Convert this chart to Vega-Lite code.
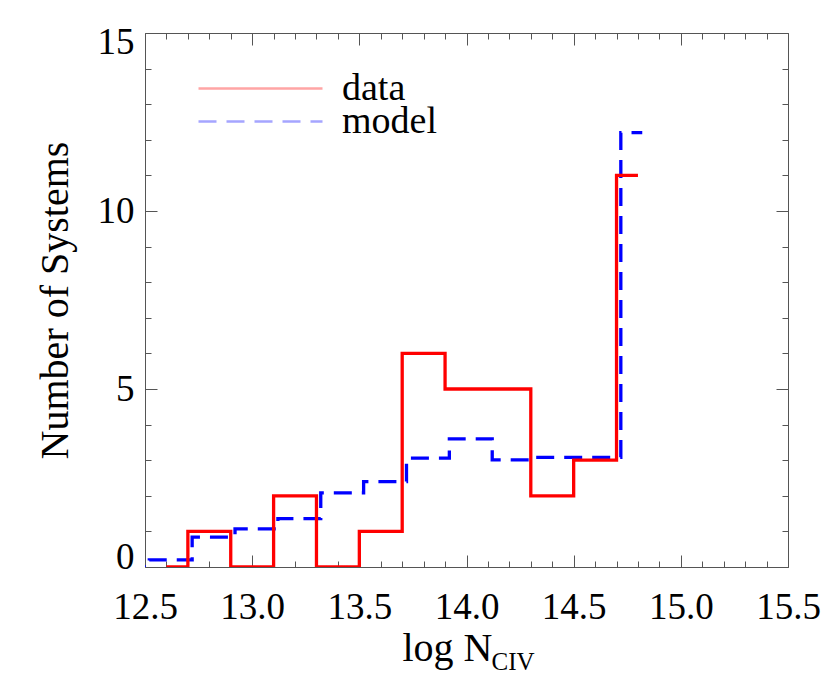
{
  "$schema": "https://vega.github.io/schema/vega-lite/v6.json",
  "width": 643,
  "height": 534,
  "autosize": {"type": "none"},
  "padding": {"left": 145, "top": 33, "right": 42, "bottom": 133},
  "background": "white",
  "config": {"view": {"stroke": null}, "font": "Liberation Serif", "axis": {"grid": false}, "legend": {"rowPadding": -8, "gridAlign": "none"}},
  "data": {"name": "hist"},
  "datasets": {
    "hist": [
      {"logN": 12.42, "count": 0, "series": "model"},
      {"logN": 12.62, "count": 0.2, "series": "model"},
      {"logN": 12.82, "count": 0.84, "series": "model"},
      {"logN": 13.02, "count": 1.07, "series": "model"},
      {"logN": 13.22, "count": 1.36, "series": "model"},
      {"logN": 13.42, "count": 2.08, "series": "model"},
      {"logN": 13.62, "count": 2.4, "series": "model"},
      {"logN": 13.82, "count": 3.06, "series": "model"},
      {"logN": 14.02, "count": 3.6, "series": "model"},
      {"logN": 14.22, "count": 3.01, "series": "model"},
      {"logN": 14.42, "count": 3.08, "series": "model"},
      {"logN": 14.62, "count": 3.08, "series": "model"},
      {"logN": 14.82, "count": 12.2, "series": "model"},
      {"logN": 12.6, "count": 0, "series": "data"},
      {"logN": 12.8, "count": 1, "series": "data"},
      {"logN": 13.0, "count": 0, "series": "data"},
      {"logN": 13.2, "count": 2, "series": "data"},
      {"logN": 13.4, "count": 0, "series": "data"},
      {"logN": 13.6, "count": 1, "series": "data"},
      {"logN": 13.8, "count": 6, "series": "data"},
      {"logN": 14.0, "count": 5, "series": "data"},
      {"logN": 14.2, "count": 5, "series": "data"},
      {"logN": 14.4, "count": 2, "series": "data"},
      {"logN": 14.6, "count": 3, "series": "data"},
      {"logN": 14.8, "count": 11, "series": "data"}
    ]
  },
  "resolve": {"axis": {"x": "independent", "y": "independent"}},
  "layer": [
    {
      "mark": {"type": "line", "interpolate": "step", "strokeWidth": 3.3, "clip": true},
      "encoding": {
        "x": {
          "field": "logN", "type": "quantitative",
          "scale": {"domain": [12.5, 15.5], "nice": false, "zero": false},
          "axis": {
            "orient": "bottom", "title": "log N", "titleFont": "Liberation Serif", "titleFontSize": 40,
            "titleFontWeight": "normal", "titleColor": "black", "titleX": 302, "titleY": 93,
            "titleAlign": "center", "titleBaseline": "alphabetic", "titleAnchor": null,
            "values": [12.5, 13, 13.5, 14, 14.5, 15, 15.5], "format": ".1f",
            "labelFont": "Liberation Serif", "labelFontSize": 37, "labelColor": "black",
            "labelPadding": 22, "labelFlush": false, "labelOverlap": false, "labelBound": false,
            "ticks": false, "domain": true, "domainColor": "#555", "domainWidth": 1
          }
        },
        "y": {
          "field": "count", "type": "quantitative",
          "scale": {"domain": [0, 15], "nice": false},
          "axis": {
            "orient": "left", "title": "Number of Systems", "titleFont": "Liberation Serif", "titleFontSize": 40,
            "titleFontWeight": "normal", "titleColor": "black", "titlePadding": 22,
            "values": [0, 5, 10, 15], "format": "d",
            "labelFont": "Liberation Serif", "labelFontSize": 37, "labelColor": "black",
            "labelPadding": 11, "labelFlush": true, "labelFlushOffset": 9, "labelOverlap": false, "labelBound": false,
            "ticks": false, "domain": true, "domainColor": "#555", "domainWidth": 1
          }
        },
        "color": {
          "field": "series", "type": "nominal",
          "scale": {"domain": ["data", "model"], "range": ["#ff0000", "#0000ff"]},
          "legend": {
            "orient": "none", "legendX": 94, "legendY": 34, "title": null,
            "symbolType": "M-3.1,0H3.1", "symbolSize": 1600, "symbolStrokeWidth": 2.5, "symbolOpacity": 0.35,
            "labelFont": "Liberation Serif", "labelFontSize": 38, "labelColor": "black", "labelOffset": 60,
            "padding": 0
          }
        },
        "strokeDash": {
          "field": "series", "type": "nominal",
          "scale": {"domain": ["data", "model"], "range": [[1, 0], [18, 10]]},
          "legend": {
            "orient": "none", "legendX": 94, "legendY": 34, "title": null,
            "symbolType": "M-3.1,0H3.1", "symbolSize": 1600, "symbolStrokeWidth": 2.5, "symbolOpacity": 0.35,
            "labelFont": "Liberation Serif", "labelFontSize": 38, "labelColor": "black", "labelOffset": 60,
            "padding": 0
          }
        }
      }
    },
    {
      "mark": {"type": "point", "opacity": 0},
      "encoding": {
        "x": {
          "field": "logN", "type": "quantitative",
          "scale": {"domain": [12.5, 15.5], "nice": false, "zero": false},
          "axis": {
            "orient": "top", "title": null, "labels": false, "domain": true, "domainColor": "#555", "domainWidth": 1,
            "ticks": true, "tickColor": "#555", "tickWidth": 1,
            "values": [12.5, 12.6, 12.7, 12.8, 12.9, 13.0, 13.1, 13.2, 13.3, 13.4, 13.5, 13.6, 13.7, 13.8, 13.9, 14.0, 14.1, 14.2, 14.3, 14.4, 14.5, 14.6, 14.7, 14.8, 14.9, 15.0, 15.1, 15.2, 15.3, 15.4, 15.5],
            "tickSize": {"condition": {"test": "abs(datum.value*2 - round(datum.value*2)) < 0.01", "value": -12}, "value": -6}
          }
        },
        "y": {
          "field": "count", "type": "quantitative",
          "scale": {"domain": [0, 15], "nice": false},
          "axis": {
            "orient": "right", "title": null, "labels": false, "domain": true, "domainColor": "#555", "domainWidth": 1,
            "ticks": true, "tickColor": "#555", "tickWidth": 1,
            "values": [0, 1, 2, 3, 4, 5, 6, 7, 8, 9, 10, 11, 12, 13, 14, 15],
            "tickSize": {"condition": {"test": "datum.value % 5 === 0", "value": -12}, "value": -6}
          }
        }
      }
    },
    {
      "mark": {"type": "point", "opacity": 0},
      "encoding": {
        "x": {
          "field": "logN", "type": "quantitative",
          "scale": {"domain": [12.5, 15.5], "nice": false, "zero": false},
          "axis": {
            "orient": "bottom", "title": null, "labels": false, "domain": false,
            "ticks": true, "tickColor": "#555", "tickWidth": 1,
            "values": [12.5, 12.6, 12.7, 12.8, 12.9, 13.0, 13.1, 13.2, 13.3, 13.4, 13.5, 13.6, 13.7, 13.8, 13.9, 14.0, 14.1, 14.2, 14.3, 14.4, 14.5, 14.6, 14.7, 14.8, 14.9, 15.0, 15.1, 15.2, 15.3, 15.4, 15.5],
            "tickSize": {"condition": {"test": "abs(datum.value*2 - round(datum.value*2)) < 0.01", "value": -12}, "value": -6}
          }
        },
        "y": {
          "field": "count", "type": "quantitative",
          "scale": {"domain": [0, 15], "nice": false},
          "axis": {
            "orient": "left", "title": null, "labels": false, "domain": false,
            "ticks": true, "tickColor": "#555", "tickWidth": 1,
            "values": [0, 1, 2, 3, 4, 5, 6, 7, 8, 9, 10, 11, 12, 13, 14, 15],
            "tickSize": {"condition": {"test": "datum.value % 5 === 0", "value": -12}, "value": -6}
          }
        }
      }
    },
    {
      "mark": {"type": "point", "opacity": 0},
      "encoding": {
        "x": {
          "field": "logN", "type": "quantitative",
          "scale": {"domain": [12.5, 15.5], "nice": false, "zero": false},
          "axis": {
            "orient": "bottom", "title": "CIV", "labels": false, "domain": false, "ticks": false,
            "titleFont": "Liberation Serif", "titleFontSize": 25, "titleFontWeight": "normal", "titleColor": "black",
            "titleX": 346, "titleY": 102, "titleAlign": "left", "titleBaseline": "alphabetic", "titleAnchor": null
          }
        },
        "y": {
          "field": "count", "type": "quantitative",
          "scale": {"domain": [0, 15], "nice": false},
          "axis": null
        }
      }
    }
  ]
}
